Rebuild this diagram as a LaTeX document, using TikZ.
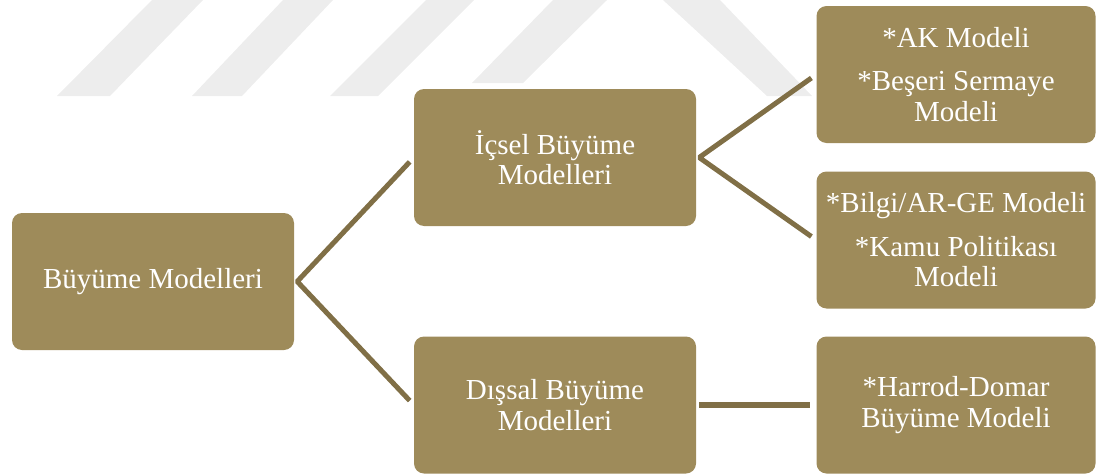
\documentclass[tikz,border=0pt]{standalone}
\usepackage{fontspec}
\setmainfont{Liberation Serif}
\usetikzlibrary{calc}
\definecolor{boxfill}{RGB}{158,139,90}
\definecolor{linecol}{RGB}{128,111,70}
\definecolor{wm}{RGB}{237,237,237}
\begin{document}
\begin{tikzpicture}[x=1pt,y=-1pt,
  box/.style={draw=none, fill=boxfill, rounded corners=10pt, text=white, align=center,
    inner sep=0pt, minimum height=137pt, font=\fontsize{29}{30.5}\selectfont},
  leftbox/.style={box, minimum width=282pt},
  rightbox/.style={box, minimum width=279pt},
  conn/.style={draw=linecol, line width=5pt, line join=bevel},
  wmark/.style={fill=wm, draw=none}]
\useasboundingbox (0,0) rectangle (1096,474);
% faint watermark stripes
\fill[wmark] (57,96) -- (110,96) -- (203,0) -- (152,0) -- cycle;
\fill[wmark] (192,96) -- (242,96) -- (333,0) -- (283,0) -- cycle;
\fill[wmark] (330,96) -- (378,96) -- (474,0) -- (426,0) -- cycle;
\fill[wmark] (472,83) -- (523,83) -- (607,0) -- (553,0) -- cycle;
\fill[wmark] (663,0) -- (720,0) -- (812,96) -- (767,96) -- cycle;
% boxes
\node[leftbox] (b) at (153,281.5) {Büyüme Modelleri};
\node[leftbox] (i) at (555,157.5) {İçsel Büyüme\\Modelleri};
\node[leftbox] (d) at (555,405) {Dışsal Büyüme\\Modelleri};
\node[rightbox] (ak) at (956,74.5) {*AK Modeli\\[13pt]*Beşeri Sermaye\\Modeli};
\node[rightbox] (bi) at (956,240) {*Bilgi/AR-GE Modeli\\[13pt]*Kamu Politikası\\Modeli};
\node[rightbox] (h) at (956,405) {*Harrod-Domar\\Büyüme Modeli};
% connectors
\coordinate (bj) at ($(b.east)+(3,0)$);
\coordinate (ij) at ($(i.east)+(3,0)$);
\draw[conn, shorten <=6pt, shorten >=6pt] (i.west) -- (bj) -- (d.west);
\draw[conn, shorten <=6pt, shorten >=6pt] (ak.west) -- (ij) -- (bi.west);
\draw[conn, line width=6pt, shorten <=3pt, shorten >=6pt] (d.east) -- (h.west);
\end{tikzpicture}
\end{document}
